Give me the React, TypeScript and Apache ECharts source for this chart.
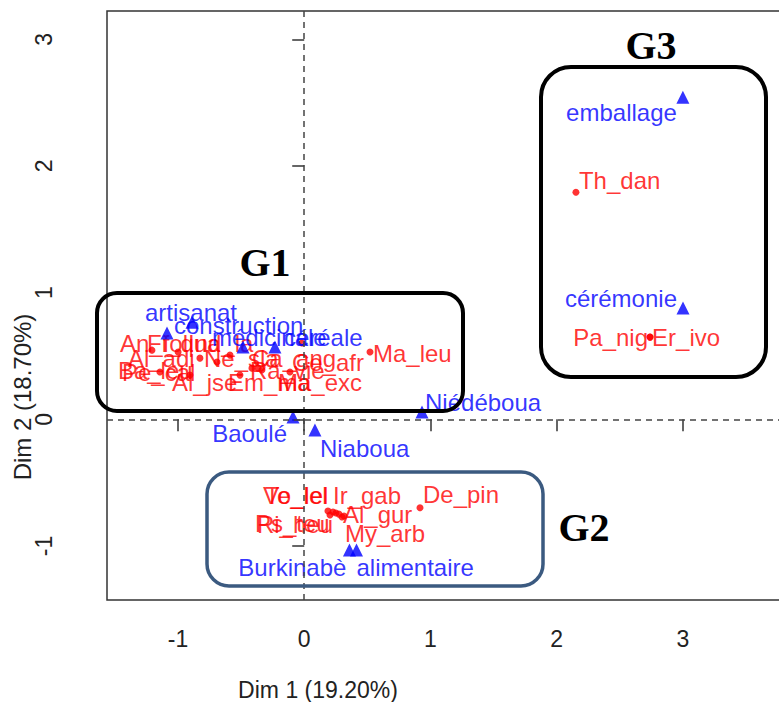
import React, { useEffect, useRef } from "react";
import * as echarts from "echarts";

// ---- data ----
// species (red dots)
const speciesNames = [
  "Th_dan", "Pa_nig", "Er_ivo",
  "De_pin", "Ir_gab", "Vo_lel", "Te_lel", "Al_gur", "Ps_teu", "Ri_heu", "My_arb",
  "An_fol", "Fi_qua", "Al_adi", "Ne_sla", "Ind_la", "Ba_leu", "Pe_cal",
  "Al_jse", "Em_ma", "Ca_ang", "Ra_vie", "Ce_afr", "Ma_exc", "Ma_leu",
];
const speciesX = [
  2.152, 2.739, 2.739,
  0.917, 0.228, 0.188, 0.251, 0.299, 0.204, 0.275, 0.315,
  -1.206, -0.999, -0.826, -0.691, -0.588, -1.143, -0.905,
  -0.509, -0.414, -0.366, -0.335, -0.018, -0.113, 0.521,
];
const speciesY = [
  1.793, 0.649, 0.649,
  -0.698, -0.732, -0.724, -0.740, -0.771, -0.755, -0.748, -0.763,
  0.546, 0.531, 0.483, 0.452, 0.507, 0.373, 0.349,
  0.349, 0.404, 0.404, 0.389, 0.602, 0.373, 0.531,
];

// modalities (blue triangles)
const modalityNames = [
  "emballage", "cérémonie", "artisanat", "construction", "médicinale", "céréale",
  "Baoulé", "Niaboua", "Niédéboua", "Burkinabè", "alimentaire",
];
const modalityX = [2.999, 3.0, -1.087, -0.889, -0.485, -0.232, -0.089, 0.085, 0.933, 0.358, 0.414];
const modalityY = [2.542, 0.878, 0.682, 0.767, 0.570, 0.570, 0.018, -0.085, 0.057, -1.031, -1.031];

const xTicks = [-1, 0, 1, 2, 3];
const yTicks = [-1, 0, 1, 2, 3];
const xTitle = "Dim 1 (19.20%)";
const yTitle = "Dim 2 (18.70%)";

// label placement: [align, dx, dy] relative to the point (pixels)
const labelPlace: Record<string, [string, number, number]> = {
  Th_dan: ["left", 3, -12],
  Pa_nig: ["right", -2, 0],
  Er_ivo: ["left", 2, 0],
  De_pin: ["left", 3, -13],
  Ir_gab: ["left", 0, -17],
  Vo_lel: ["left", -65, -16],
  Te_lel: ["left", -71, -18],
  Al_gur: ["left", 1, -3],
  Ps_teu: ["left", -75, 9],
  Ri_heu: ["left", -82, 10],
  My_arb: ["left", 1, 17],
  An_fol: ["left", -32, -7],
  Fi_qua: ["left", -31, -9],
  Al_adi: ["left", -72, 0],
  Ne_sla: ["left", -13, -4],
  Ind_la: ["left", -42, -12],
  Ba_leu: ["left", -42, -2],
  Pe_cal: ["left", -68, -3],
  Al_jse: ["left", -68, 7],
  Em_ma: ["left", -24, 14],
  Ca_ang: ["left", -6, -10],
  Ra_vie: ["left", -12, 0],
  Ce_afr: ["left", -10, 19],
  Ma_exc: ["left", -12, 10],
  Ma_leu: ["left", 3, 1],
  emballage: ["right", -6, 15],
  "cérémonie": ["right", -6, -10],
  artisanat: ["left", -22, -20],
  construction: ["left", -18, 3],
  "médicinale": ["left", -31, -10],
  "céréale": ["left", 9, -10],
  "Baoulé": ["right", -6, 16],
  Niaboua: ["left", 5, 18],
  "Niédéboua": ["left", 3, -10],
  "Burkinabè": ["right", -3, 18],
  alimentaire: ["left", 0, 18],
};

function buildPoints(names: string[], xs: number[], ys: number[]) {
  return names.map((n, i) => {
    const p = labelPlace[n] || ["left", 4, 0];
    return {
      name: n,
      value: [xs[i], ys[i]],
      label: { align: p[0], offset: [p[1], p[2]] },
    };
  });
}

export default function App() {
  const ref = useRef<HTMLDivElement>(null);
  useEffect(() => {
    if (!ref.current) return;
    const chart = echarts.init(ref.current, undefined, { renderer: "svg" });
    const labelFont = "'Liberation Sans', Arial, sans-serif";
    const gFont = "bold 40px 'Liberation Serif', 'Times New Roman', serif";
    chart.setOption({
      animation: false,
      backgroundColor: "#ffffff",
      grid: {
        left: 107, top: 11, right: -5, bottom: 102,
        outerBoundsMode: "none", containLabel: false,
        show: true, borderColor: "#333", borderWidth: 1.5, backgroundColor: "transparent",
      },
      xAxis: {
        type: "value", min: -1.562, max: 3.80,
        splitLine: { show: false },
        axisLine: { show: false },
        axisTick: { show: true, length: 12, lineStyle: { color: "#333", width: 1.5 }, customValues: xTicks },
        axisLabel: { show: true, margin: 27, fontFamily: labelFont, fontSize: 23, color: "#222", customValues: xTicks },
      },
      yAxis: {
        type: "value", min: -1.426, max: 3.223,
        splitLine: { show: false },
        axisLine: { show: false },
        axisTick: { show: true, length: 12, lineStyle: { color: "#333", width: 1.5 }, customValues: yTicks },
        axisLabel: { show: true, rotate: 90, margin: 52, fontFamily: labelFont, fontSize: 23, color: "#222", customValues: yTicks },
      },
      series: [
        {
          type: "scatter",
          data: buildPoints(speciesNames, speciesX, speciesY),
          symbol: "circle", symbolSize: 7,
          itemStyle: { color: "#ff0000" },
          label: {
            show: true, position: "inside", formatter: "{b}",
            fontFamily: labelFont, fontSize: 24, color: "#ff0000",
          },
          markLine: {
            silent: true, symbol: "none",
            label: { show: false },
            lineStyle: { color: "#444", type: [6, 5], width: 1.5 },
            data: [{ xAxis: 0 }, { yAxis: 0 }],
          },
          z: 3,
        },
        {
          type: "scatter",
          data: buildPoints(modalityNames, modalityX, modalityY),
          symbol: "triangle", symbolSize: 13,
          itemStyle: { color: "#0000ff" },
          label: {
            show: true, position: "inside", formatter: "{b}",
            fontFamily: labelFont, fontSize: 24, color: "#0000ff",
          },
          z: 4,
        },
      ],
      graphic: [
        { type: "rect", shape: { x: 97, y: 293, width: 366, height: 118, r: 20 }, style: { fill: "none", stroke: "#000", lineWidth: 4 }, z: 10 },
        { type: "rect", shape: { x: 207, y: 472, width: 336, height: 114, r: 22 }, style: { fill: "none", stroke: "#3b5a80", lineWidth: 3.5 }, z: 10 },
        { type: "rect", shape: { x: 541, y: 67, width: 225, height: 310, r: 30 }, style: { fill: "none", stroke: "#000", lineWidth: 4 }, z: 10 },
        { type: "text", x: 265, y: 262, style: { text: "G1", font: gFont, fill: "#000", align: "center", verticalAlign: "middle" }, z: 10 },
        { type: "text", x: 584, y: 527, style: { text: "G2", font: gFont, fill: "#000", align: "center", verticalAlign: "middle" }, z: 10 },
        { type: "text", x: 651, y: 45, style: { text: "G3", font: gFont, fill: "#000", align: "center", verticalAlign: "middle" }, z: 10 },
        { type: "text", x: 318, y: 690, style: { text: xTitle, font: "23px 'Liberation Sans', Arial, sans-serif", fill: "#222", align: "center", verticalAlign: "middle" }, z: 10 },
        { type: "text", x: 22, y: 397, rotation: Math.PI / 2, style: { text: yTitle, font: "24px 'Liberation Sans', Arial, sans-serif", fill: "#222", align: "center", verticalAlign: "middle" }, z: 10 },
      ],
    });
    return () => chart.dispose();
  }, []);
  return (
    <div
      ref={ref}
      style={{ position: "absolute", left: 0, top: 0, width: 779, height: 702, overflow: "hidden" }}
    />
  );
}
